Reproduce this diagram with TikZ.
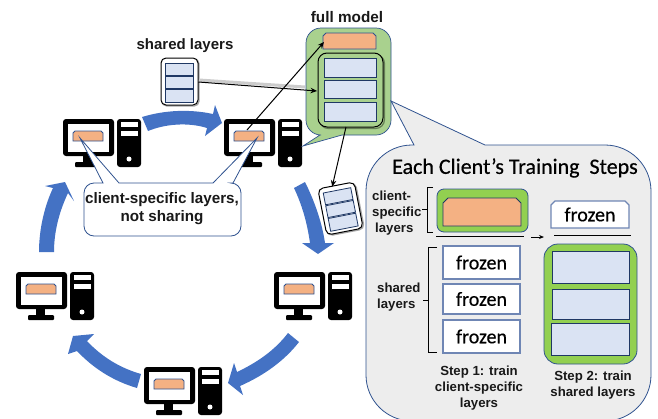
\documentclass[tikz,border=0pt]{standalone}
\usepackage{fontspec}
\setmainfont{Liberation Sans}
\newfontfamily\titlefont[FakeBold=0.5]{Carlito}
\usetikzlibrary{arrows.meta}
\definecolor{edgeblue}{HTML}{2F528F}
\definecolor{darkblue}{HTML}{1F3864}
\definecolor{softblue}{HTML}{6F86B4}
\definecolor{layerblue}{HTML}{DAE3F3}
\definecolor{layerorange}{HTML}{F4B183}
\definecolor{palegreen}{HTML}{A9D18E}
\definecolor{brightgreen}{HTML}{92D050}
\definecolor{flowblue}{HTML}{4472C4}
\definecolor{panelgray}{HTML}{EDEDED}
\tikzset{
  x=1pt,y=-1pt,
  flow/.style={fill=flowblue,draw=none},
  layerbox/.style={fill=layerblue,draw=darkblue,line width=1pt},
  orangebox/.style={fill=layerorange,draw=edgeblue,line width=0.9pt},
  frozenbox/.style={fill=white,draw=softblue,line width=1.1pt,font=\titlefont\fontsize{20}{20}\selectfont},
  greenbox/.style={fill=brightgreen,draw=edgeblue,line width=0.8pt},
  lbl/.style={font=\bfseries\fontsize{13.2}{16}\selectfont,align=center,inner sep=0pt,text=black!90},
  link/.style={-{Stealth[length=6.5pt,width=5.5pt]},line width=1pt,black},
  ruleline/.style={line width=1pt,black},
  bracket/.style={line width=1pt,black},
}
% [style]{name}{x1}{y1}{x2}{y2}{text}
\newcommand\rectnode[7][]{%
  \pgfmathsetmacro\rw{#5-#3}\pgfmathsetmacro\rh{#6-#4}%
  \node[inner sep=0pt,outer sep=0pt,minimum width=\rw pt,minimum height=\rh pt,#1] (#2) at ({(#3+#5)/2},{(#4+#6)/2}) {#7};}
% [style]{name}{x1}{y1}{x2}{y2}{chamfer}{text}
\newcommand\snipnode[8][]{%
  \path[#1] (#3,#6) -- (#3,#4+#7) -- (#3+#7,#4) -- (#5-#7,#4) -- (#5,#4+#7) -- (#5,#6) -- cycle;
  \node[inner sep=0pt,#1,draw=none,fill=none] (#2) at ({(#3+#5)/2},{(#4+#6)/2}) {#8};}
% {name}{x}{y}
\newcommand\computer[3]{%
  \begin{scope}[shift={(#2,#3)}]
    \fill[black,rounded corners=3pt] (0,0) rectangle (51,37);
    \fill[white] (5,5) rectangle (46,33);
    \fill[black] (20,37) rectangle (29,44);
    \fill[black,rounded corners=1pt] (12,43) rectangle (38,48);
    \fill[black,rounded corners=3pt] (54,0) rectangle (78,48);
    \fill[white] (58,3) rectangle (75,8);
    \fill[white] (58,12) rectangle (75,17);
    \fill[white] (66,40) circle[radius=2.5pt];
    \snipnode[orangebox]{#1}{10}{12}{40}{22}{2}{}
  \end{scope}}
% three-layer icon around the current origin
\newcommand\layericon{%
  \draw[black!35,line width=1.4pt,rounded corners=5pt] (-17.5,-22.5) rectangle (19.5,24.5);
  \draw[black,fill=white,line width=1pt,rounded corners=5pt] (-18.5,-23.5) rectangle (18.5,23.5);
  \draw[layerbox,line width=0.8pt] (-14,-18.5) rectangle (14,-6.5);
  \draw[layerbox,line width=0.8pt] (-14,-5.5) rectangle (14,6.5);
  \draw[layerbox,line width=0.8pt] (-14,7.5) rectangle (14,20.5);}
\begin{document}
\begin{tikzpicture}
\useasboundingbox (0,0) rectangle (658,418);
\clip (0,0) rectangle (658,418);

% ring of block arrows
\path[flow] (142,117) .. controls (165,110) and (190,109) .. (213,114) -- (215,105) -- (222,123) -- (205,136) -- (207,128) .. controls (188,122) and (165,124) .. (148,131) -- cycle;
\path[flow] (39,252) .. controls (39,228) and (45,205) .. (53,188) -- (45,186) -- (65,182) -- (74,201) -- (68,193) .. controls (60,210) and (54,230) .. (54,252) -- cycle;
\path[flow] (305,182) .. controls (314,200) and (322,222) .. (325,243) -- (334,243) -- (318,254) -- (302,243) -- (310,243) .. controls (307,222) and (302,205) .. (294,188) -- cycle;
\path[flow] (299,342) .. controls (285,360) and (265,375) .. (240,386) -- (243,395) -- (228,383) -- (234,363) -- (237,372) .. controls (258,362) and (275,350) .. (288,333) -- cycle;
\path[flow] (141,374) .. controls (120,368) and (102,357) .. (87,341) -- (94,334) -- (73,336) -- (68,354) -- (77,351) .. controls (93,368) and (113,381) .. (137,388) -- cycle;

% computers
\computer{pcA}{63}{119}
\computer{pcB}{224}{119}
\computer{pcC}{274}{272}
\computer{pcD}{16}{272}
\computer{pcE}{144}{367}

% client-specific callout
\path[fill=white,draw=edgeblue,line width=0.8pt]
  (94,183) -- (103,183) -- (80,138) -- (119,183) -- (213,183) -- (257,138) -- (233,183) -- (231,183)
  .. controls (236.5,183) and (241,187.5) .. (241,193)
  -- (241,226) .. controls (241,231.5) and (236.5,236) .. (231,236)
  -- (94,236) .. controls (88.5,236) and (84,231.5) .. (84,226)
  -- (84,193) .. controls (84,187.5) and (88.5,183) .. (94,183) -- cycle;
\node[lbl,font=\bfseries\fontsize{15.2}{18}\selectfont] (note) at (162,209) {client-specific layers,\\not sharing};

% full model
\node[lbl,font=\bfseries\fontsize{15.3}{16}\selectfont] (fulltitle) at (347,17) {full model};
\path[fill=palegreen,draw=edgeblue,line width=0.7pt]
  (321,28) -- (376,28) .. controls (384.3,28) and (391,34.7) .. (391,43)
  -- (391,120) .. controls (391,128.3) and (384.3,135) .. (376,135)
  -- (342,135) -- (303,146) -- (320,135) -- (321,135)
  .. controls (312.7,135) and (306,128.3) .. (306,120)
  -- (306,43) .. controls (306,34.7) and (312.7,28) .. (321,28) -- cycle;
\snipnode[orangebox]{fullOrange}{323}{33}{376}{49}{3}{}
\draw[palegreen!60!black,line width=1.2pt,rounded corners=9pt] (319.5,54.5) rectangle (384.5,128.5);
\rectnode[fill=palegreen,draw=black,line width=1pt,rounded corners=9pt]{fullShared}{318}{53}{383}{127}{}
\rectnode[layerbox]{fullL1}{324}{58}{376}{77}{}
\rectnode[layerbox]{fullL2}{324}{80}{376}{98}{}
\rectnode[layerbox]{fullL3}{324}{102}{376}{121}{}

% shared layers icon
\node[lbl,font=\bfseries\fontsize{15}{16}\selectfont] (sharedtitle) at (185,46) {shared layers};
\begin{scope}[shift={(179.5,81.5)}]
  \layericon
  \coordinate (sharedOut) at (19,0.5);
\end{scope}
\coordinate (sharedIn) at (317,91);
\draw[black!20,line width=3pt] (199,80) -- (305,87);
\draw[link] (sharedOut) -- (sharedIn);

% link from client to full model
\coordinate (pcBtop) at (247,130);
\coordinate (orangeIn) at (324,42);
\draw[link] (pcBtop) -- (orangeIn);

% tilted icon
\begin{scope}[shift={(340.5,208.5)},rotate=11]
  \layericon
  \coordinate (tiltTop) at (-4,-23);
\end{scope}
\coordinate (fullBottom) at (346,127);
\draw[link] (fullBottom) -- (tiltTop);

% big panel
\path[fill=panelgray,draw=edgeblue,line width=0.8pt]
  (391,101) -- (485,145) -- (605,145)
  .. controls (630.4,145) and (651,165.6) .. (651,191)
  -- (651,375) .. controls (651,400.4) and (630.4,421) .. (605,421)
  -- (412,421) .. controls (386.6,421) and (366,400.4) .. (366,375)
  -- (366,191) .. controls (366,165.6) and (386.6,145) .. (412,145) -- (414,145) -- cycle;
\node[inner sep=0pt,text=black,font=\titlefont\fontsize{22}{22}\selectfont] (paneltitle) at (515,168) {Each Client’s Training\ \ Steps};

% step 1
\rectnode[greenbox,rounded corners=7pt]{s1green}{437}{189}{528}{232}{}
\snipnode[fill=layerorange,draw=darkblue,line width=0.8pt]{s1orange}{443}{198}{521}{226}{5}{}
\coordinate (s1ruleL) at (436,236);
\coordinate (s1ruleR) at (524,236);
\draw[ruleline] (s1ruleL) -- (s1ruleR);
\rectnode[frozenbox]{f1}{443}{246}{520}{279}{frozen}
\rectnode[frozenbox]{f2}{443}{284}{520}{314}{frozen}
\rectnode[frozenbox]{f3}{443}{320}{520}{353}{frozen}

% step arrow
\coordinate (stepA) at (531,237);
\coordinate (stepB) at (544,237);
\draw[-{Stealth[length=5pt,width=4pt]},line width=0.9pt] (stepA) -- (stepB);

% step 2
\snipnode[fill=white,draw=softblue,line width=1.1pt,font=\titlefont\fontsize{20}{20}\selectfont]{f4}{551}{201}{629}{228}{4}{frozen}
\coordinate (s2ruleL) at (554,235);
\coordinate (s2ruleR) at (631,235);
\draw[ruleline] (s2ruleL) -- (s2ruleR);
\rectnode[greenbox,rounded corners=14pt]{s2green}{544}{244}{637}{364}{}
\rectnode[layerbox]{s2L1}{552}{251}{629}{283}{}
\rectnode[layerbox]{s2L2}{552}{289}{629}{319}{}
\rectnode[layerbox]{s2L3}{551}{323}{629}{355}{}

% brackets
\draw[bracket] (433,187) -- (427,187) -- (427,232) -- (433,232);
\draw[bracket] (422,209) -- (427,209);
\draw[bracket] (437,247) -- (428,247) -- (428,352) -- (437,352);
\draw[bracket] (423,300) -- (428,300);

% labels
\node[lbl,align=left,anchor=north west] (csl) at (372,191) {client-\\specific\\\hspace*{3pt}layers};
\node[lbl,align=left,anchor=north west] (shl) at (377,283) {shared\\layers};
\node[lbl] (step1) at (479,388) {Step 1: train\\client-specific\\layers};
\node[lbl] (step2) at (593,385.5) {Step 2: train\\shared layers};
\end{tikzpicture}
\end{document}
